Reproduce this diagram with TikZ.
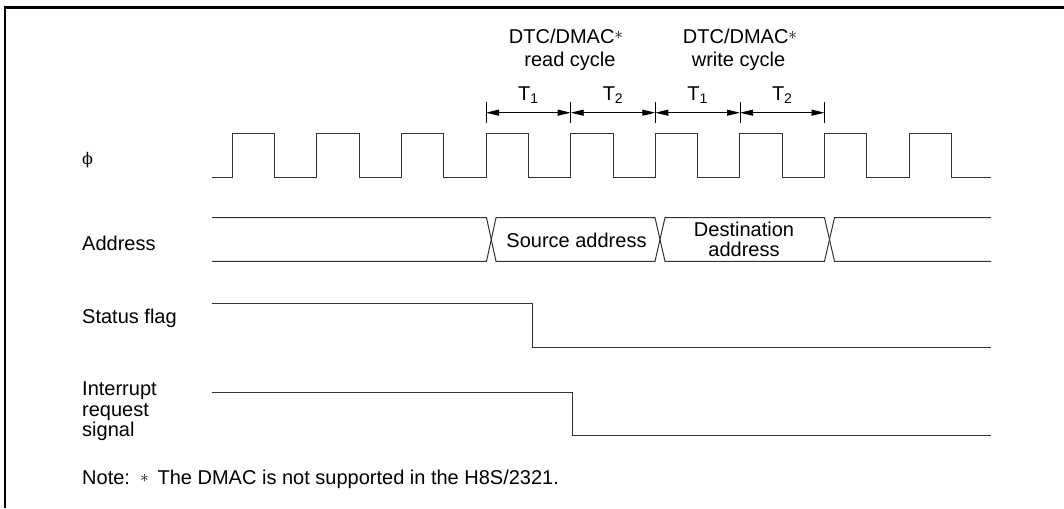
\documentclass[tikz,border=0pt]{standalone}
\usepackage{fontspec}
\setmainfont{Liberation Sans}
\newfontfamily\phifont{DejaVu Serif}
\usetikzlibrary{arrows.meta}

\newcommand{\noteast}{\raisebox{1.5pt}{\fontsize{16}{16}\selectfont$\ast$}}
\newcommand{\headast}{\raisebox{4.5pt}{\fontsize{16}{16}\selectfont$\ast$}}

\tikzset{
  sig/.style={line width=1pt, draw=black!80},
  lbl/.style={font=\fontsize{20}{20.5}\selectfont, inner sep=0pt},
  span/.style={{Triangle[length=13pt,width=6pt]}-{Triangle[length=13pt,width=6pt]}, line width=0.9pt},
}

\begin{document}
\begin{tikzpicture}[x=1pt,y=-1pt]
        \useasboundingbox (0,0) rectangle (1064,508);
        \draw[line width=2.2pt] (4,7.5) -- (1064,7.5);
        \draw[line width=2.2pt] (5,6.4) -- (5,508);

        \node[lbl, anchor=base west, font=\fontsize{16}{16}\phifont] (phi) at (82,164.5) {ϕ};
        \node[lbl, anchor=base west] (addr) at (82,250) {Address};
        \node[lbl, anchor=base west] (flag) at (82,323.5) {Status flag};
        \node[lbl, anchor=north west, align=left] (irq) at (82,381.7) {Interrupt\\request\\signal};
        \node[lbl, anchor=base west] (note) at (82,484)
            {Note:\hspace{0.5em}\noteast\hspace{0.45em}The DMAC is not supported in the H8S/2321.};

        \node[lbl, anchor=base] (rdtop) at (566,44) {DTC/DMAC\headast};
        \node[lbl, anchor=base] (rdbot) at (570,66.5) {read cycle};
        \node[lbl, anchor=base] (wrtop) at (740,44) {DTC/DMAC\headast};
        \node[lbl, anchor=base] (wrbot) at (738.5,66.5) {write cycle};

        \coordinate (t0) at (486,112.7);
        \coordinate (t1) at (570.7,112.7);
        \coordinate (t2) at (655.3,112.7);
        \coordinate (t3) at (740,112.7);
        \coordinate (t4) at (824.5,112.7);
        \foreach \t in {0,...,4}
            \draw[line width=0.9pt] (t\t) ++(0,-11) -- ++(0,21.6);
        \draw[span] (t0) -- node[lbl, above=8.7pt] (rdT1) {T\textsubscript{1}} (t1);
        \draw[span] (t1) -- node[lbl, above=8.7pt] (rdT2) {T\textsubscript{2}} (t2);
        \draw[span] (t2) -- node[lbl, above=8.7pt] (wrT1) {T\textsubscript{1}} (t3);
        \draw[span] (t3) -- node[lbl, above=8.7pt] (wrT2) {T\textsubscript{2}} (t4);

        \draw[sig] (212,177) foreach \k in {0,...,8} {
            -- ({232.3+84.6*\k},177) -- ++(0,-43.3) -- ++(42.3,0) -- ++(0,43.3)
        } -- (991,177);

        \draw[sig] (212,217.7) -- (486.5,217.7) -- (496,261.3) -- (655,261.3) -- (665,217.7)
            -- (824.5,217.7) -- (834.5,261.3) -- (991,261.3);
        \draw[sig] (212,261.3) -- (486.5,261.3) -- (496,217.7) -- (655,217.7) -- (665,261.3)
            -- (824.5,261.3) -- (834.5,217.7) -- (991,217.7);
        \node[lbl, anchor=base] (src) at (576.5,247.3) {Source address};
        \node[lbl, anchor=base] (dst) at (744,236) {Destination};
        \node[lbl, anchor=base] (dst2) at (744,256) {address};

        \draw[sig] (212,303.7) -- (532.7,303.7) -- (532.7,347.3) -- (991,347.3);
        \draw[sig] (212,392.7) -- (572.7,392.7) -- (572.7,435.7) -- (991,435.7);
\end{tikzpicture}
\end{document}
